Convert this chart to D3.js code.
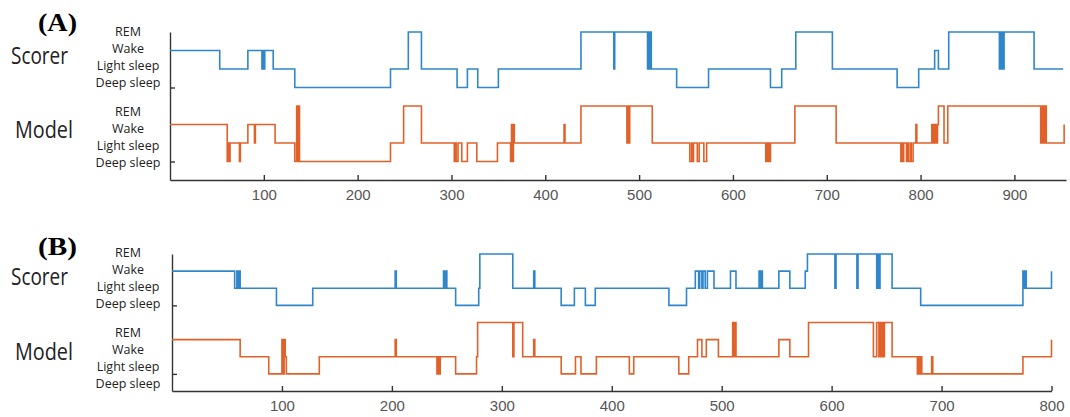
<!DOCTYPE html>
<html>
<head>
<meta charset="utf-8">
<script src="https://cdn.jsdelivr.net/npm/d3@7"></script>
<style>
  body { margin: 0; background: #fff; }
  svg { display: block; }
</style>
</head>
<body>
<svg id="chart" width="1070" height="417"></svg>
<script>
// stage codes: 0 Deep sleep, 1 Light sleep, 2 Wake, 3 REM
const stageNames = ['REM', 'Wake', 'Light sleep', 'Deep sleep'];
const ticksA = [100, 200, 300, 400, 500, 600, 700, 800, 900];
const ticksB = [100, 200, 300, 400, 500, 600, 700, 800];

// [epoch, stage] change points
const scorerA = [
  [0, 2], [53, 1], [83, 2], [98, 1], [99, 2], [100, 1], [101, 2], [110, 1], [133, 0],
  [235, 1], [254, 3], [268, 1], [306, 0], [317, 1], [328, 0], [350, 1], [438, 3],
  [473, 1], [474, 3], [509, 1], [510, 3], [511, 1], [512, 3], [513, 1], [540, 0],
  [574, 1], [640, 0], [652, 1], [667, 3], [706, 1], [775, 0], [798, 1], [815, 2],
  [819, 1], [830, 3], [884, 1], [885, 3], [886, 1], [887, 3], [888, 1], [889, 3],
  [921, 1], [952, 1]
];
const modelA = [
  [0, 2], [61, 0], [62, 1], [63, 0], [64, 1], [74, 0], [75, 1], [83, 2], [90, 1], [91, 2],
  [112, 1], [133, 0], [135, 3], [136, 0], [137, 3], [138, 0], [235, 1], [249, 3], [268, 1],
  [303, 0], [304, 1], [305, 0], [307, 1], [311, 0], [317, 1], [327, 0], [349, 1],
  [363, 0], [364, 2], [365, 0], [366, 2], [367, 1], [420, 2], [421, 1], [438, 3],
  [487, 1], [488, 3], [489, 1], [490, 3], [514, 1], [554, 0], [556, 1], [557, 0],
  [558, 1], [562, 0], [564, 1], [569, 0], [572, 1], [635, 0], [636, 1], [637, 0],
  [638, 1], [639, 0], [640, 1], [666, 3], [710, 1], [779, 0], [780, 1], [781, 0],
  [782, 1], [785, 0], [786, 1], [787, 0], [789, 1], [790, 0], [792, 1], [795, 2],
  [796, 1], [812, 2], [813, 1], [814, 2], [815, 1], [816, 2], [817, 1], [818, 2],
  [819, 3], [825, 1], [829, 3], [928, 1], [929, 3], [930, 1], [931, 3], [932, 1],
  [933, 3], [934, 1], [953, 2]
];
const scorerB = [
  [0, 2], [57, 1], [59, 2], [60, 1], [61, 2], [62, 1], [95, 0], [128, 1], [203, 2],
  [204, 1], [247, 2], [248, 1], [249, 2], [250, 1], [258, 0], [279, 1], [280, 3],
  [310, 1], [329, 2], [330, 1], [354, 0], [366, 1], [376, 0], [385, 1], [452, 0],
  [468, 1], [476, 2], [479, 1], [480, 2], [482, 1], [483, 2], [485, 1], [487, 2],
  [493, 1], [508, 2], [513, 1], [534, 2], [535, 1], [536, 2], [537, 1], [552, 2],
  [562, 1], [576, 2], [578, 3], [603, 1], [604, 3], [623, 1], [624, 3], [641, 1],
  [642, 3], [643, 1], [644, 3], [655, 1], [681, 0], [774, 2], [775, 1], [776, 2],
  [777, 1], [800, 2]
];
const modelB = [
  [0, 2], [62, 1], [88, 0], [100, 2], [101, 0], [102, 2], [103, 1], [104, 0], [134, 1],
  [203, 2], [204, 1], [241, 0], [242, 1], [243, 0], [244, 1], [258, 0], [277, 1],
  [278, 3], [310, 1], [311, 3], [319, 1], [329, 2], [330, 1], [354, 0], [367, 1],
  [372, 0], [386, 1], [416, 0], [420, 1], [461, 0], [470, 1], [478, 2], [482, 1],
  [486, 2], [497, 1], [510, 3], [511, 1], [512, 3], [513, 1], [552, 2], [562, 1],
  [579, 3], [638, 1], [641, 3], [643, 1], [644, 3], [645, 1], [646, 3], [647, 1],
  [648, 3], [655, 1], [678, 0], [679, 1], [680, 0], [681, 1], [682, 0], [691, 1],
  [692, 0], [774, 1], [800, 2]
];

const SCORER_COLOR = '#2f86c9';
const MODEL_COLOR = '#e0622a';
const SCORER_SHIFT = 4; // scorer trace sits 4 levels above the model trace

const panels = [
  {
    title: '(A)', titleY: 31, scorer: scorerA, model: modelA, ticks: ticksA,
    xMax: 955, left: 170, right: 1066, top: 32, bottom: 180,
    nameY: [64, 138], stageY: [36, 116]
  },
  {
    title: '(B)', titleY: 255, scorer: scorerB, model: modelB, ticks: ticksB,
    xMax: 800, left: 172, right: 1051.5, top: 254, bottom: 391,
    nameY: [285, 360], stageY: [257, 337]
  }
];

const svg = d3.select('#chart');

const drawPanel = (p) => {
  const g = svg.append('g');
  const x = d3.scaleLinear().domain([0, p.xMax]).range([p.left, p.right]);
  const y = d3.scaleLinear().domain([-1, 7]).range([p.bottom, p.top]);

  g.append('text')
    .attr('x', 38).attr('y', p.titleY)
    .attr('textLength', 39).attr('lengthAdjust', 'spacingAndGlyphs')
    .style('font', 'bold 25px "Liberation Serif", serif')
    .text(p.title);

  ['Scorer', 'Model'].forEach((name, i) => {
    g.append('text')
      .attr('x', i ? 15 : 11).attr('y', p.nameY[i])
      .attr('textLength', i ? 58 : 57).attr('lengthAdjust', 'spacingAndGlyphs')
      .style('font', '24px "Open Sans", sans-serif')
      .style('fill', '#222')
      .text(name);

    g.selectAll(null)
      .data(stageNames)
      .join('text')
      .attr('x', 128)
      .attr('y', (d, j) => p.stageY[i] + j * 17)
      .attr('text-anchor', 'middle')
      .style('font', '12.5px "Open Sans", sans-serif')
      .style('fill', '#222')
      .text((d) => d);
  });

  // y axis: no labels, ticks at the two "Deep sleep" baselines
  g.append('g')
    .attr('transform', `translate(${p.left},0)`)
    .call(d3.axisRight(y).tickValues([0, SCORER_SHIFT]).tickSizeInner(5).tickSizeOuter(0).tickFormat(''))
    .call((a) => a.selectAll('path, line').attr('stroke', '#333').attr('stroke-width', 1.4));

  g.append('g')
    .attr('transform', `translate(0,${p.bottom})`)
    .call(d3.axisBottom(x).tickValues(p.ticks).tickSizeInner(-5).tickSizeOuter(0).tickPadding(9))
    .call((a) => a.selectAll('path, line').attr('stroke', '#333').attr('stroke-width', 1.4))
    .call((a) => a.selectAll('text')
      .style('font', '15px "Liberation Sans", Arial, sans-serif')
      .attr('fill', '#555'));

  const line = (shift) => d3.line()
    .curve(d3.curveStepAfter)
    .x((d) => x(d[0]))
    .y((d) => y(d[1] + shift));

  g.append('path')
    .attr('d', line(SCORER_SHIFT)(p.scorer))
    .attr('fill', 'none')
    .attr('stroke', SCORER_COLOR)
    .attr('stroke-width', 1.6);

  g.append('path')
    .attr('d', line(0)(p.model))
    .attr('fill', 'none')
    .attr('stroke', MODEL_COLOR)
    .attr('stroke-width', 1.6);
};

panels.forEach(drawPanel);
</script>
</body>
</html>
